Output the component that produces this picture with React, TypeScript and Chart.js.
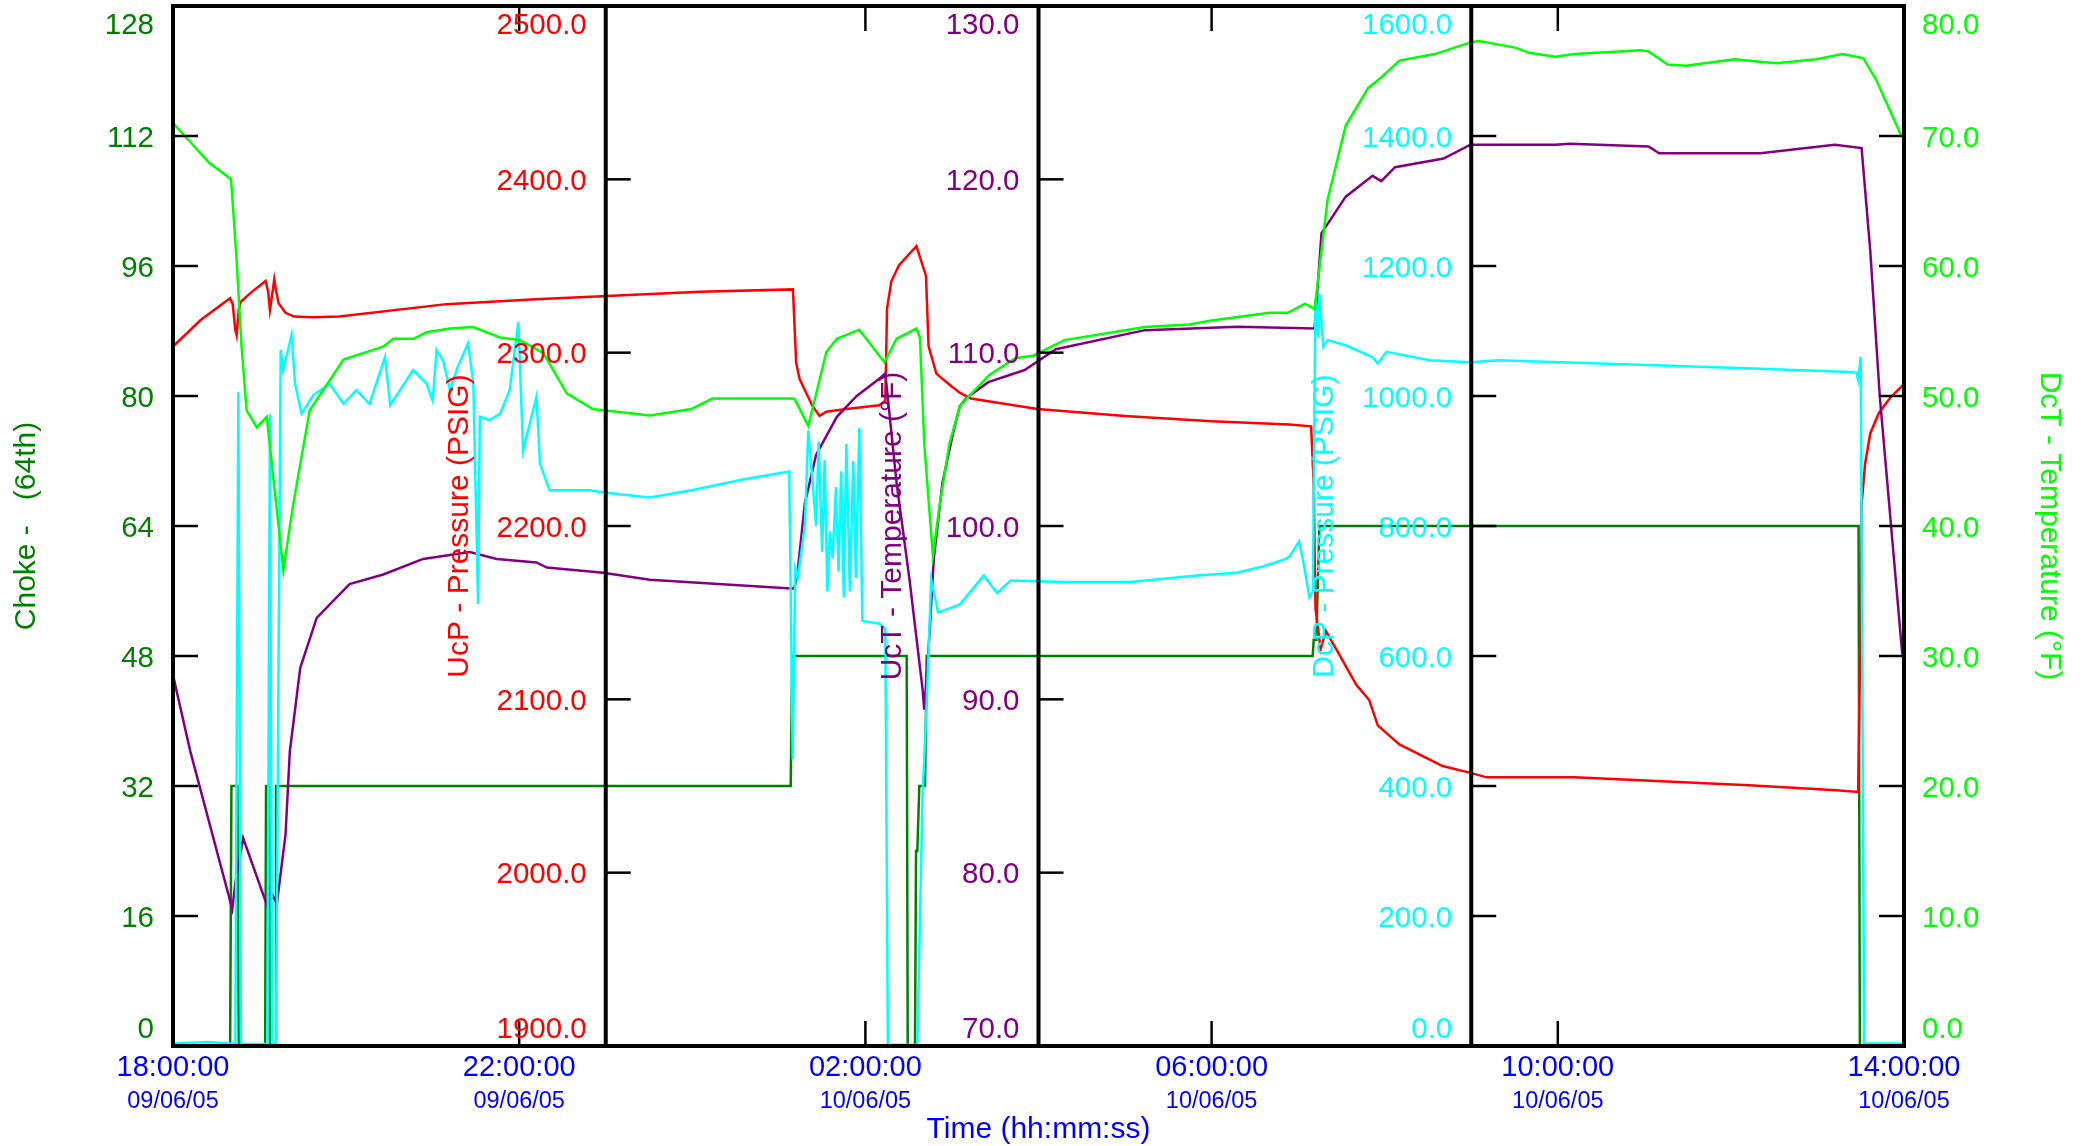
import React, { useEffect, useRef } from 'react';
import { Chart, registerables } from 'chart.js';

Chart.register(...registerables);

const W = 2086;
const H = 1146;
const FONT = '"Liberation Sans", Arial, Helvetica, sans-serif';

// ---- Data (x = hours elapsed since 18:00:00 on 09/06/05) ----
const chokeHours = [0, 0.66, 0.675, 0.745, 0.76, 1.065, 1.075, 1.11, 1.12, 1.18, 1.19, 7.137, 7.155, 8.477, 8.489, 8.573, 8.585, 8.6, 8.623, 8.689, 8.708, 13.168, 13.18, 13.21, 13.245, 19.475, 19.49, 20];
const chokeValues = [0, 0, 32, 32, 0, 0, 32, 32, 0, 0, 32, 32, 48, 48, 0, 0, 24, 24, 32, 32, 48, 48, 50, 50, 64, 64, 0, 0];

const ucpHours = [0, 0.32, 0.66, 0.69, 0.72, 0.735, 0.76, 0.785, 0.89, 1.07, 1.1, 1.12, 1.15, 1.17, 1.19, 1.22, 1.3, 1.4, 1.61, 1.92, 3.16, 4.19, 5.01, 6.09, 7.163, 7.2, 7.24, 7.39, 7.47, 7.55, 7.78, 8.16, 8.23, 8.25, 8.3, 8.39, 8.59, 8.7, 8.73, 8.82, 8.97, 9.09, 9.22, 9.99, 11.0, 12.0, 12.9, 13.15, 13.18, 13.2, 13.26, 13.32, 13.44, 13.67, 13.82, 13.92, 14.17, 14.67, 14.98, 15.18, 16.19, 17.2, 18.21, 19.22, 19.47, 19.5, 19.51, 19.55, 19.61, 19.71, 19.84, 19.99];
const ucpValues = [2303.5, 2318.8, 2331.4, 2328, 2313, 2310, 2325, 2329.4, 2334.2, 2341.4, 2335, 2324.6, 2335, 2342.3, 2336, 2328.5, 2323, 2320.8, 2320.4, 2320.8, 2328, 2330.8, 2332.7, 2335.2, 2336.5, 2294.2, 2284.8, 2269.1, 2263.5, 2265.9, 2267.5, 2269.7, 2272.3, 2325.5, 2341.2, 2350.6, 2361.5, 2344.3, 2303.6, 2287.9, 2281.6, 2276.9, 2273.5, 2267.5, 2263.5, 2260.5, 2258.5, 2257.5, 2223.6, 2152.8, 2129, 2139.5, 2129, 2108.5, 2099.7, 2085, 2074, 2061.5, 2057.7, 2055, 2055, 2052.8, 2050.5, 2047.5, 2046.6, 2153.3, 2212.2, 2235.8, 2253.4, 2265.2, 2274, 2281.4];

const uctHours = [0, 0.2, 0.685, 0.72, 0.81, 1.095, 1.12, 1.2, 1.3, 1.35, 1.47, 1.66, 2.04, 2.43, 2.89, 3.43, 3.74, 4.2, 4.32, 4.97, 5.51, 7.14, 7.18, 7.22, 7.3, 7.43, 7.67, 7.9, 8.16, 8.23, 8.36, 8.51, 8.66, 8.68, 8.74, 8.79, 8.89, 9.01, 9.09, 9.17, 9.42, 9.84, 10.2, 11.23, 12.3, 13.19, 13.27, 13.55, 13.86, 13.96, 14.12, 14.68, 14.99, 15.32, 15.97, 16.14, 17.05, 17.17, 18.34, 19.2, 19.51, 19.61, 19.72, 19.98];
const uctValues = [91.4, 87.0, 77.9, 79.4, 82.0, 78.0, 79.0, 78.2, 82.2, 87.0, 91.8, 94.7, 96.65, 97.2, 98.1, 98.5, 98.1, 97.9, 97.6, 97.3, 96.9, 96.4, 96.4, 97.5, 101.3, 104.1, 106.3, 107.5, 108.5, 108.8, 102.5, 96.9, 90.6, 89.4, 93.7, 98.1, 102.5, 105.3, 106.9, 107.4, 108.3, 109.0, 110.2, 111.3, 111.5, 111.4, 116.9, 119.0, 120.2, 119.9, 120.7, 121.2, 122.0, 122.0, 122.0, 122.05, 121.9, 121.5, 121.5, 122.0, 121.8, 115.9, 107.5, 92.6];

const dcpHours = [0, 0.4, 0.66, 0.72, 0.755, 0.785, 1.09, 1.12, 1.145, 1.19, 1.244, 1.274, 1.37, 1.41, 1.486, 1.62, 1.81, 1.97, 2.12, 2.27, 2.45, 2.51, 2.775, 2.93, 3.0, 3.045, 3.12, 3.2, 3.29, 3.41, 3.47, 3.525, 3.545, 3.66, 3.78, 3.89, 3.99, 4.045, 4.2, 4.24, 4.35, 4.815, 5.0, 5.51, 5.99, 6.6, 7.12, 7.16, 7.19, 7.22, 7.3, 7.34, 7.37, 7.43, 7.46, 7.5, 7.53, 7.56, 7.59, 7.62, 7.66, 7.69, 7.72, 7.75, 7.78, 7.82, 7.86, 7.89, 7.93, 7.965, 8.16, 8.23, 8.26, 8.6, 8.66, 8.7, 8.76, 8.84, 9.09, 9.37, 9.52, 9.68, 10.29, 11.06, 11.83, 12.29, 12.6, 12.83, 12.9, 13.01, 13.06, 13.13, 13.17, 13.2, 13.23, 13.245, 13.29, 13.34, 13.55, 13.86, 13.92, 14.02, 14.52, 14.99, 15.32, 16.48, 17.22, 18.34, 19.38, 19.45, 19.47, 19.5, 19.54, 20];
const dcpValues = [4, 6, 4, 4, 1006, 3, 3, 972, 3, 3, 1071, 1040, 1094, 1019, 973, 1001, 1019, 988, 1009, 988, 1060, 986, 1040, 1019, 993, 1071, 1055, 1009, 1045, 1081, 1019, 680, 968, 963, 973, 1009, 1114, 916, 999, 896, 855, 855, 851, 844, 855, 872, 884, 441, 734, 720, 800, 947, 900, 800, 930, 760, 901, 700, 792, 750, 860, 730, 884, 690, 926, 700, 900, 720, 951, 654, 650, 642, 2, 2, 383, 500, 717, 667, 679, 724, 697, 716, 714, 714, 724, 728, 738, 748, 753, 776, 745, 690, 700, 1146, 1091, 1158, 1076, 1086, 1078, 1060, 1050, 1068, 1055, 1052, 1055, 1050, 1047, 1042, 1037, 1036, 1025, 1060, 4, 4];

const dctHours = [0, 0.425, 0.67, 0.73, 0.79, 0.85, 0.968, 1.083, 1.275, 1.39, 1.58, 1.97, 2.43, 2.545, 2.78, 2.93, 3.2, 3.47, 3.78, 4.01, 4.28, 4.55, 4.85, 5.51, 5.99, 6.23, 7.18, 7.34, 7.41, 7.55, 7.67, 7.93, 8.22, 8.36, 8.59, 8.63, 8.68, 8.78, 8.86, 8.97, 9.09, 9.17, 9.43, 9.73, 9.94, 10.3, 11.23, 11.74, 12.0, 12.67, 12.88, 13.08, 13.19, 13.34, 13.55, 13.81, 13.96, 14.17, 14.58, 14.99, 15.09, 15.51, 15.67, 15.97, 16.19, 16.96, 17.05, 17.27, 17.48, 18.04, 18.52, 18.99, 19.29, 19.53, 19.68, 19.97];
const dctValues = [71.0, 67.9, 66.7, 61.0, 54.0, 48.9, 47.6, 48.4, 36.6, 41.7, 48.9, 52.8, 53.8, 54.4, 54.4, 54.9, 55.2, 55.3, 54.5, 54.3, 53.3, 50.2, 49.0, 48.5, 49.0, 49.8, 49.8, 47.7, 49.6, 53.4, 54.4, 55.1, 52.6, 54.4, 55.2, 54.5, 46.3, 37.7, 41.7, 46.3, 49.2, 49.8, 51.6, 52.9, 53.1, 54.3, 55.3, 55.5, 55.8, 56.4, 56.4, 57.1, 56.7, 65.1, 70.8, 73.7, 74.5, 75.8, 76.3, 77.2, 77.3, 76.8, 76.4, 76.1, 76.3, 76.6, 76.5, 75.5, 75.4, 75.9, 75.6, 75.9, 76.3, 76.0, 74.3, 70.0];

// ---- Axis ticks / labels ----
const chokeTicks = [0, 16, 32, 48, 64, 80, 96, 112, 128];
const ucpTicks = [1900, 2000, 2100, 2200, 2300, 2400, 2500];
const uctTicks = [70, 80, 90, 100, 110, 120, 130];
const dcpTicks = [0, 200, 400, 600, 800, 1000, 1200, 1400, 1600];
const dctTicks = [0, 10, 20, 30, 40, 50, 60, 70, 80];
const timeTickHours = [0, 4, 8, 12, 16, 20];
const timeTickLabels = ['18:00:00', '22:00:00', '02:00:00', '06:00:00', '10:00:00', '14:00:00'];
const dateTickLabels = ['09/06/05', '09/06/05', '10/06/05', '10/06/05', '10/06/05', '10/06/05'];
const innerAxisHours = [5, 10, 15];

const COLORS = {
  choke: '#008000',
  ucp: '#ff0000',
  uct: '#800080',
  dcp: '#00ffff',
  dct: '#00ff00',
  time: '#0000ff',
};

function pts(hours: number[], values: number[]) {
  return hours.map((h, i) => ({ x: h, y: values[i] }));
}

const axesPlugin = {
  id: 'customAxes',
  afterDatasetsDraw(chart: any) {
    const ctx: CanvasRenderingContext2D = chart.ctx;
    const { left, right, top, bottom } = chart.chartArea;
    const xs = chart.scales.x;
    ctx.save();

    const line = (x1: number, y1: number, x2: number, y2: number) => {
      ctx.beginPath();
      ctx.moveTo(x1, y1);
      ctx.lineTo(x2, y2);
      ctx.stroke();
    };

    // frame + inner axis lines
    ctx.strokeStyle = '#000';
    ctx.lineWidth = 4;
    ctx.strokeRect(left, top, right - left, bottom - top);
    for (const h of innerAxisHours) {
      const px = xs.getPixelForValue(h);
      line(px, top, px, bottom);
    }

    // x ticks (bottom and top, inward)
    ctx.lineWidth = 2.5;
    for (const h of timeTickHours) {
      const px = xs.getPixelForValue(h);
      line(px, bottom, px, bottom - 25);
      line(px, top, px, top + 25);
    }

    // x labels
    ctx.fillStyle = COLORS.time;
    ctx.textAlign = 'center';
    ctx.textBaseline = 'alphabetic';
    timeTickHours.forEach((h, i) => {
      const px = xs.getPixelForValue(h);
      ctx.font = `29px ${FONT}`;
      ctx.fillText(timeTickLabels[i], px, bottom + 30);
      ctx.font = `23.5px ${FONT}`;
      ctx.fillText(dateTickLabels[i], px, bottom + 62);
    });
    ctx.font = `30px ${FONT}`;
    ctx.fillText('Time (hh:mm:ss)', (left + right) / 2, bottom + 92);

    const yAxes = [
      { id: 'yChoke', ticks: chokeTicks, dec: 0, color: COLORS.choke, at: left, side: 'left', title: 'Choke -   (64th)' },
      { id: 'yUcP', ticks: ucpTicks, dec: 1, color: COLORS.ucp, at: xs.getPixelForValue(innerAxisHours[0]), side: 'left', title: 'UcP - Pressure (PSIG)' },
      { id: 'yUcT', ticks: uctTicks, dec: 1, color: COLORS.uct, at: xs.getPixelForValue(innerAxisHours[1]), side: 'left', title: 'UcT - Temperature (°F)' },
      { id: 'yDcP', ticks: dcpTicks, dec: 1, color: COLORS.dcp, at: xs.getPixelForValue(innerAxisHours[2]), side: 'left', title: 'DcP - Pressure (PSIG)' },
      { id: 'yDcT', ticks: dctTicks, dec: 1, color: COLORS.dct, at: right, side: 'right', title: 'DcT - Temperature (°F)' },
    ];

    const midY = (top + bottom) / 2;
    for (const ax of yAxes) {
      const sc = chart.scales[ax.id];
      ctx.strokeStyle = '#000';
      ctx.lineWidth = 2.5;
      ctx.fillStyle = ax.color;
      ctx.font = `29.5px ${FONT}`;
      ctx.textBaseline = 'alphabetic';
      ctx.textAlign = ax.side === 'left' ? 'right' : 'left';
      for (const v of ax.ticks) {
        const y = sc.getPixelForValue(v);
        if (ax.side === 'left') line(ax.at, y, ax.at + 25, y);
        else line(ax.at, y, ax.at - 25, y);
        let by = y + 10.5;
        if (Math.abs(y - top) < 1) by = top + 28;
        else if (Math.abs(y - bottom) < 1) by = bottom - 8;
        const lx = ax.side === 'left' ? ax.at - 19 : ax.at + 18;
        ctx.fillText(v.toFixed(ax.dec), lx, by);
      }
      // axis title
      ctx.save();
      ctx.font = `30px ${FONT}`;
      ctx.textAlign = 'center';
      ctx.textBaseline = 'alphabetic';
      if (ax.side === 'left') {
        ctx.translate(ax.at - 138, midY);
        ctx.rotate(-Math.PI / 2);
      } else {
        ctx.translate(ax.at + 137, midY);
        ctx.rotate(Math.PI / 2);
      }
      ctx.fillText(ax.title, 0, 0);
      ctx.restore();
    }

    ctx.restore();
  },
};

export default function App() {
  const ref = useRef<HTMLCanvasElement>(null);

  useEffect(() => {
    document.body.style.margin = '0';
    document.body.style.overflow = 'hidden';
    const canvas = ref.current;
    if (!canvas) return;
    const common = { pointRadius: 0, borderWidth: 2.5, tension: 0, fill: false };
    const chart = new Chart(canvas, {
      type: 'line',
      data: {
        datasets: [
          { ...common, label: 'DcT', data: pts(dctHours, dctValues), borderColor: COLORS.dct, yAxisID: 'yDcT' },
          { ...common, label: 'DcP', data: pts(dcpHours, dcpValues), borderColor: COLORS.dcp, yAxisID: 'yDcP' },
          { ...common, label: 'UcT', data: pts(uctHours, uctValues), borderColor: COLORS.uct, yAxisID: 'yUcT' },
          { ...common, label: 'UcP', data: pts(ucpHours, ucpValues), borderColor: COLORS.ucp, yAxisID: 'yUcP' },
          { ...common, label: 'Choke', data: pts(chokeHours, chokeValues), borderColor: COLORS.choke, yAxisID: 'yChoke' },
        ],
      },
      options: {
        animation: false,
        responsive: false,
        maintainAspectRatio: false,
        devicePixelRatio: 1,
        events: [],
        layout: { padding: { left: 173, top: 6, right: W - 1904, bottom: H - 1046 } },
        plugins: { legend: { display: false }, tooltip: { enabled: false }, title: { display: false } },
        scales: {
          x: { type: 'linear', min: 0, max: 20, display: false },
          yChoke: { type: 'linear', axis: 'y', position: 'left', min: 0, max: 128, display: false },
          yUcP: { type: 'linear', axis: 'y', position: 'left', min: 1900, max: 2500, display: false },
          yUcT: { type: 'linear', axis: 'y', position: 'left', min: 70, max: 130, display: false },
          yDcP: { type: 'linear', axis: 'y', position: 'right', min: 0, max: 1600, display: false },
          yDcT: { type: 'linear', axis: 'y', position: 'right', min: 0, max: 80, display: false },
        },
      } as any,
      plugins: [axesPlugin],
    });
    return () => chart.destroy();
  }, []);

  return (
    <div style={{ position: 'absolute', left: 0, top: 0, width: W, height: H, background: '#fff' }}>
      <canvas ref={ref} width={W} height={H} style={{ display: 'block', width: W, height: H }} />
    </div>
  );
}
